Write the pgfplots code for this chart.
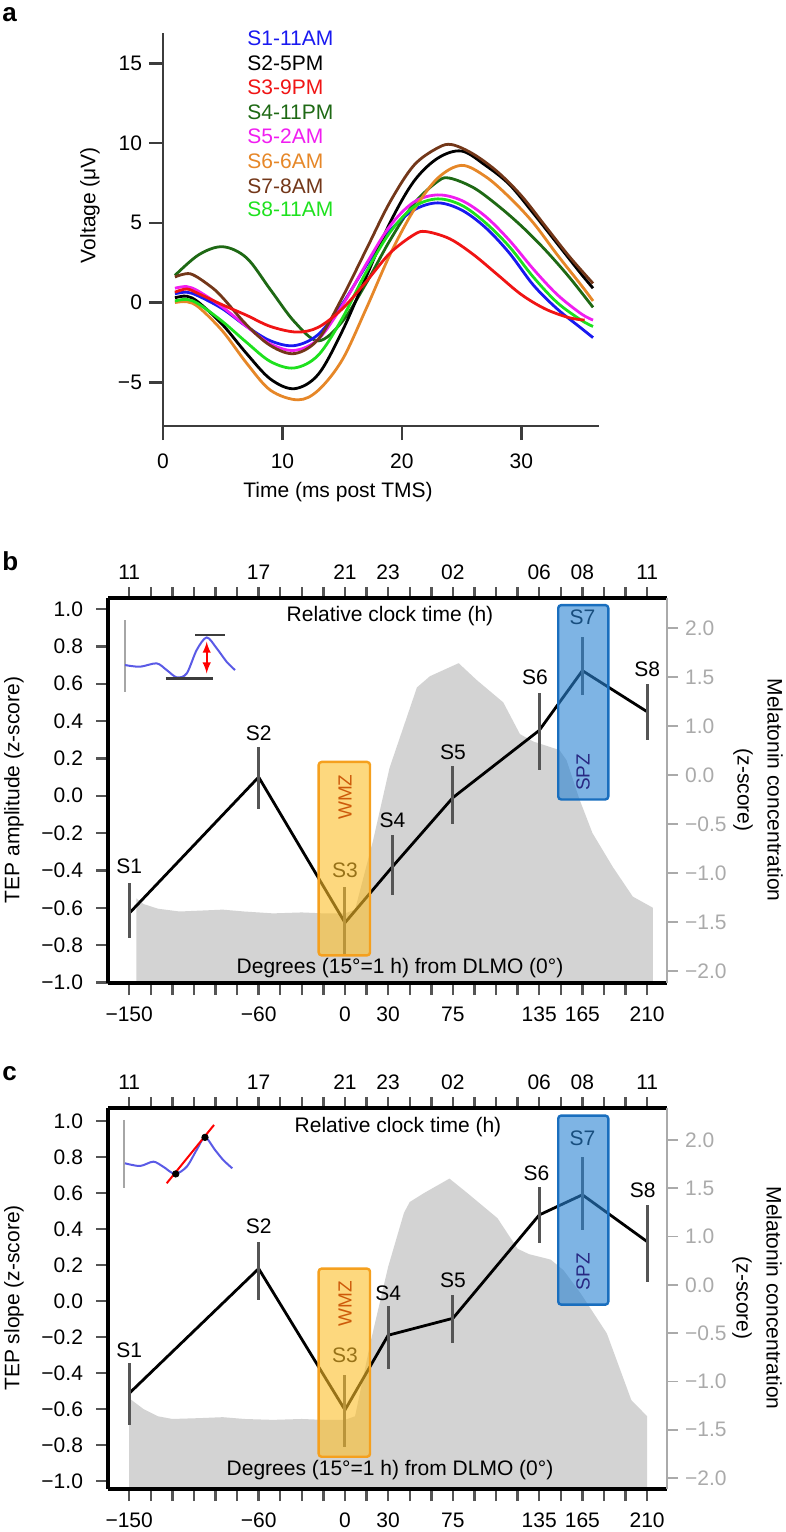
\documentclass[border=0pt]{standalone}
\usepackage{fontspec}
\setmainfont{Liberation Sans}
\usepackage{pgfplots}
\pgfplotsset{compat=1.18}
\definecolor{cS1}{RGB}{25,25,240}
\definecolor{cS2}{RGB}{0,0,0}
\definecolor{cS3}{RGB}{240,20,20}
\definecolor{cS4}{RGB}{30,105,20}
\definecolor{cS5}{RGB}{240,30,240}
\definecolor{cS6}{RGB}{230,135,40}
\definecolor{cS7}{RGB}{115,55,25}
\definecolor{cS8}{RGB}{30,225,30}
\definecolor{axgray}{RGB}{60,60,60}
\definecolor{barc}{RGB}{85,85,85}
\definecolor{melgray}{RGB}{211,211,211}
\definecolor{rgray}{RGB}{170,170,170}
\definecolor{wmzfill}{RGB}{252,190,40}
\definecolor{wmzedge}{RGB}{245,160,30}
\definecolor{wmztext}{RGB}{205,90,10}
\definecolor{spzfill}{RGB}{40,130,210}
\definecolor{spzedge}{RGB}{25,110,190}
\definecolor{spztext}{RGB}{40,40,130}
\definecolor{insetblue}{RGB}{90,90,230}
\newcommand{\fs}{\fontsize{10.5}{12.6}\selectfont}
\pgfplotsset{
  /pgf/number format/assume math mode=true,
  panelbc/.style={
    scale only axis, anchor=south west, width=279.5pt,
    xmin=-164.7, xmax=223.8, clip=false, axis on top,
    tick align=outside, major tick length=6pt,
    tick style={barc, line width=1.2pt},
    xtick={-150,-135,...,210},
    every tick label/.append style={font=\fs},
  },
  leftax/.style={
    axis x line*=bottom, axis y line*=left,
    x axis line style={black, line width=1.6pt, -},
    y axis line style={black, line width=1.6pt, -},
    xticklabels={−150,,,,,,−60,,,,0,,30,,,75,,,,135,,165,,,210},
    ytick={-1,-0.8,-0.6,-0.4,-0.2,0,0.2,0.4,0.6,0.8,1},
    yticklabels={−1.0,−0.8,−0.6,−0.4,−0.2,0.0,0.2,0.4,0.6,0.8,1.0},
    xticklabel style={yshift=-2.5pt},
    yticklabel style={xshift=-3pt},
  },
  rightax/.style={
    axis x line*=top, axis y line*=right,
    x axis line style={black, line width=1.6pt, -},
    y axis line style={rgray, line width=0.9pt, -},
    xticklabels={11,,,,,,17,,,,21,,23,,,02,,,,06,,08,,,11},
    ytick={-2,-1.5,-1,-0.5,0,0.5,1,1.5},
    yticklabels={−2.0,−1.5,−1.0,−0.5,0.0,1.0,1.5,2.0},
    y tick style={rgray, line width=0.9pt},
    yticklabel style={text=rgray},
    major tick length=5.5pt,
  },
  ebar/.style={draw=none, mark=none, forget plot,
    error bars/.cd, y dir=both, y explicit, error mark=none,
    error bar style={draw=barc, line width=1.5pt}},
}
\begin{document}
\begin{tikzpicture}[font=\fs]
\useasboundingbox (0,0) rectangle (393pt,-766pt);

% ---------------- panel a ----------------
\begin{axis}[
  at={(81.5pt,-213pt)}, anchor=south west,
  scale only axis, width=218pt, height=196.5pt,
  xmin=0, xmax=36.5, ymin=-7.74, ymax=16.9,
  axis x line*=bottom, axis y line*=left,
  x axis line style={axgray, line width=1.3pt, -},
  y axis line style={axgray, line width=1.3pt, -},
  tick align=outside, major tick length=7pt,
  tick style={axgray, line width=1.3pt},
  xtick={0,10,20,30}, xticklabels={0,10,20,30},
  ytick={-5,0,5,10,15}, yticklabels={−5,0,5,10,15},
  every tick label/.append style={font=\fs},
  xticklabel style={yshift=-3.5pt},
  clip=false,
]
\addplot[cS4, line width=1.4pt, smooth, tension=0.55] coordinates {(1,1.7)(3,3.0)(5,3.5)(7,2.8)(9,0.8)(11,-1.2)(13,-2.4)(15,-1.2)(17,1.2)(19,3.9)(21,6.2)(23,7.6)(24,7.8)(26,7.2)(28,6.1)(30,4.8)(32,3.3)(34,1.6)(36,-0.3)};
\addplot[cS1, line width=1.4pt, smooth, tension=0.55] coordinates {(1,0.55)(2,0.65)(3,0.4)(5,-0.4)(7,-1.5)(9,-2.4)(11,-2.7)(13,-2.0)(15,-0.1)(17,2.3)(19,4.5)(21,5.8)(23,6.25)(25,5.8)(27,4.7)(29,3.1)(31,1.1)(33,-0.4)(35,-1.6)(36,-2.2)};
\addplot[cS2, line width=1.4pt, smooth, tension=0.55] coordinates {(1,0.3)(2,0.4)(3,0.0)(5,-1.4)(7,-3.2)(9,-4.8)(11,-5.4)(13,-4.5)(15,-1.8)(17,1.6)(19,5.0)(21,7.6)(23,9.05)(25,9.5)(27,8.6)(29,7.4)(31,5.6)(33,3.7)(35,1.8)(36,0.9)};
\addplot[cS5, line width=1.4pt, smooth, tension=0.55] coordinates {(1,0.9)(2,1.0)(3,0.7)(5,-0.3)(7,-1.5)(9,-2.6)(11,-3.0)(13,-2.3)(15,-0.2)(17,2.4)(19,4.8)(21,6.3)(23,6.75)(25,6.4)(27,5.4)(29,3.9)(31,2.1)(33,0.5)(35,-0.7)(36,-1.1)};
\addplot[cS6, line width=1.4pt, smooth, tension=0.55] coordinates {(1,0.0)(2,0.05)(3,-0.3)(5,-1.8)(7,-3.8)(9,-5.5)(11.3,-6.1)(13,-5.5)(15,-3.6)(17,-0.4)(19,3.0)(21,5.8)(23,7.8)(25,8.6)(27,7.9)(29,6.6)(31,5.0)(33,3.0)(35,1.1)(36,0.1)};
\addplot[cS7, line width=1.4pt, smooth, tension=0.55] coordinates {(1,1.6)(2.3,1.8)(4,1.0)(5,0.3)(7,-1.4)(9,-2.7)(11,-3.2)(13,-2.3)(15,0.3)(17,3.3)(19,6.3)(21,8.6)(23,9.7)(24.2,9.9)(26,9.3)(28,8.2)(30,6.7)(32,4.8)(34,2.9)(36,1.2)};
\addplot[cS8, line width=1.4pt, smooth, tension=0.55] coordinates {(1,0.1)(2,0.2)(3,-0.1)(5,-1.2)(7,-2.5)(9,-3.7)(11,-4.1)(13,-3.3)(15,-1.0)(17,1.9)(19,4.4)(21,6.0)(23,6.5)(25,6.1)(27,5.0)(29,3.5)(31,1.6)(33,0.0)(35,-1.1)(36,-1.5)};
\addplot[cS3, line width=1.4pt, smooth, tension=0.55] coordinates {(1,0.65)(2,0.85)(3,0.55)(5,-0.15)(7,-0.8)(9,-1.5)(11.2,-1.85)(13,-1.55)(15,-0.4)(17,1.3)(19,3.1)(21,4.25)(22,4.45)(24,4.0)(26,3.0)(28,1.75)(30,0.5)(32,-0.4)(34,-0.95)(35.3,-1.1)};
\end{axis}
\node[font=\bfseries\fontsize{13}{14}\selectfont, anchor=base west, inner sep=0] at (1pt,-10.8pt) {a};
\node[rotate=90] at (45pt,-102.5pt) {Voltage (μV)};
\node at (169pt,-246pt) {Time (ms post TMS)};
\begin{scope}[every node/.style={anchor=west, inner sep=0, font=\fs}]
\node[text=cS1] at (123.5pt,-19pt) {S1-11AM};
\node[text=cS2] at (123.5pt,-31.5pt) {S2-5PM};
\node[text=cS3] at (123.5pt,-43.5pt) {S3-9PM};
\node[text=cS4] at (123.5pt,-56pt) {S4-11PM};
\node[text=cS5] at (123.5pt,-68pt) {S5-2AM};
\node[text=cS6] at (123.5pt,-80.5pt) {S6-6AM};
\node[text=cS7] at (123.5pt,-93pt) {S7-8AM};
\node[text=cS8] at (123.5pt,-104.5pt) {S8-11AM};
\end{scope}

% ---------------- panel b ----------------
\begin{axis}[panelbc, leftax, at={(54pt,-491.5pt)}, height=192.5pt, ymin=-1.003, ymax=1.059]
\addplot[fill=melgray, draw=none] coordinates {(-145,-1.003)(-145,-0.55)(-140,-0.58)(-130,-0.605)(-115,-0.62)(-100,-0.615)(-85,-0.61)(-70,-0.62)(-50,-0.63)(-30,-0.625)(-15,-0.63)(0,-0.63)(7,-0.61)(19.5,-0.24)(31,0.15)(50,0.58)(59,0.64)(79,0.71)(91.5,0.62)(110,0.5)(121.6,0.33)(131,0.29)(149,0.245)(154,0.19)(163,-0.02)(172,-0.2)(186,-0.38)(200,-0.54)(214,-0.6)(214,-1.003)} -- cycle;
% inset
\addplot[gray!70, line width=1pt] coordinates {(-152.9,0.94)(-152.9,0.555)};
\addplot[insetblue, line width=1pt, smooth] coordinates {(-152.9,0.70)(-142.5,0.691)(-130.9,0.709)(-123.9,0.673)(-116.9,0.634)(-110,0.655)(-103.1,0.78)(-96.1,0.848)(-89.1,0.789)(-82.2,0.717)(-76.4,0.673)};
\addplot[axgray, line width=1.1pt] coordinates {(-104.2,0.861)(-83.4,0.861)};
\addplot[axgray, line width=1.1pt] coordinates {(-124.6,0.628)(-91.5,0.628)};
\addplot[red, line width=0.9pt, latex-latex] coordinates {(-96.1,0.825)(-96.1,0.655)};
% TEP amplitude line
\addplot[black, line width=1.4pt, mark=none] coordinates {(-150,-0.63)(-60,0.1)(0,-0.68)(33,-0.38)(75,-0.01)(135,0.35)(165,0.67)(210,0.45)};
\addplot[ebar] coordinates {
(-150,-0.63) +=(0,0.16) -=(0,0.13)
(-60,0.1) +=(0,0.16) -=(0,0.17)
(0,-0.68) +=(0,0.19) -=(0,0.175)
(33,-0.38) +=(0,0.17) -=(0,0.15)
(75,-0.01) +=(0,0.17) -=(0,0.14)
(135,0.35) +=(0,0.2) -=(0,0.21)
(165,0.67) +=(0,0.18) -=(0,0.13)
(210,0.45) +=(0,0.15) -=(0,0.15)};
\node at (axis cs:-150,-0.38) {S1};
\node at (axis cs:-60,0.335) {S2};
\node at (axis cs:0,-0.40) {S3};
\node at (axis cs:33,-0.13) {S4};
\node at (axis cs:75,0.235) {S5};
\node at (axis cs:132,0.635) {S6};
\node at (axis cs:165,0.957) {S7};
\node at (axis cs:210,0.68) {S8};
% zones
\addplot[fill=wmzfill, fill opacity=0.6, draw=wmzedge, line width=1.2pt, rounded corners=1.5pt] coordinates {(-18.3,-0.855)(17.4,-0.855)(17.4,0.181)(-18.3,0.181)} -- cycle;
\addplot[fill=spzfill, fill opacity=0.6, draw=spzedge, line width=1.2pt, rounded corners=1.5pt] coordinates {(148.2,-0.02)(183,-0.02)(183,1.021)(148.2,1.021)} -- cycle;
\node[rotate=90, text=wmztext, font=\fontsize{9.5}{11}\selectfont] at (axis cs:0,-0.008) {WMZ};
\node[rotate=90, text=spztext, font=\fontsize{9.5}{11}\selectfont] at (axis cs:165.5,0.126) {SPZ};
\end{axis}
\begin{axis}[panelbc, rightax, at={(54pt,-491.5pt)}, height=192.5pt, ymin=-2.122, ymax=1.806]
\end{axis}
\node[font=\bfseries\fontsize{13}{14}\selectfont, anchor=base west, inner sep=0] at (1pt,-285pt) {b};
\node at (195pt,-308pt) {Relative clock time (h)};
\node at (200pt,-484pt) {Degrees (15°=1 h) from DLMO (0°)};
\node[rotate=90] at (7pt,-395pt) {TEP amplitude (z-score)};
\node[rotate=-90, align=center, font=\fontsize{10.5}{15}\selectfont] at (379pt,-395pt) {Melatonin concentration\\(z-score)};

% ---------------- panel c ----------------
\begin{axis}[panelbc, leftax, at={(54pt,-744.5pt)}, height=190.5pt, ymin=-1.044, ymax=1.072]
\addplot[fill=melgray, draw=none] coordinates {(-150,-1.044)(-150,-0.54)(-140,-0.6)(-130,-0.64)(-120,-0.655)(-100,-0.65)(-85,-0.645)(-70,-0.655)(-50,-0.66)(-30,-0.655)(-15,-0.66)(0,-0.66)(7,-0.64)(18,-0.22)(30,0.19)(41,0.49)(45,0.55)(55,0.6)(72.6,0.68)(85,0.6)(106,0.46)(120,0.29)(128,0.26)(143,0.23)(152,0.17)(164,0.04)(182,-0.18)(199,-0.55)(210,-0.64)(210,-1.044)} -- cycle;
% inset
\addplot[gray!70, line width=1pt] coordinates {(-153.6,1.006)(-153.6,0.628)};
\addplot[insetblue, line width=1pt, smooth] coordinates {(-152.9,0.765)(-142.5,0.75)(-133.2,0.774)(-126.3,0.746)(-118.1,0.706)(-110,0.746)(-103.1,0.839)(-97.3,0.909)(-90.3,0.839)(-84.6,0.783)(-78.3,0.737)};
\addplot[red, line width=1pt] coordinates {(-123.9,0.654)(-91,0.978)};
\addplot[only marks, mark=*, mark size=1.6pt, black] coordinates {(-117.6,0.706)(-97.3,0.909)};
% TEP slope line
\addplot[black, line width=1.4pt, mark=none] coordinates {(-150,-0.513)(-60,0.18)(0,-0.605)(30,-0.19)(75,-0.096)(135,0.478)(165,0.59)(210,0.33)};
\addplot[ebar] coordinates {
(-150,-0.513) +=(0,0.167) -=(0,0.177)
(-60,0.18) +=(0,0.15) -=(0,0.175)
(0,-0.605) +=(0,0.195) -=(0,0.205)
(30,-0.19) +=(0,0.16) -=(0,0.19)
(75,-0.096) +=(0,0.129) -=(0,0.139)
(135,0.478) +=(0,0.157) -=(0,0.158)
(165,0.59) +=(0,0.21) -=(0,0.195)
(210,0.33) +=(0,0.203) -=(0,0.223)};
\node at (axis cs:-150,-0.272) {S1};
\node at (axis cs:-60,0.413) {S2};
\node at (axis cs:0,-0.30) {S3};
\node at (axis cs:30,0.043) {S4};
\node at (axis cs:75,0.117) {S5};
\node at (axis cs:133,0.71) {S6};
\node at (axis cs:165,0.904) {S7};
\node at (axis cs:207,0.617) {S8};
% zones
\addplot[fill=wmzfill, fill opacity=0.6, draw=wmzedge, line width=1.2pt, rounded corners=1.5pt] coordinates {(-18.3,-0.865)(17.4,-0.865)(17.4,0.18)(-18.3,0.18)} -- cycle;
\addplot[fill=spzfill, fill opacity=0.6, draw=spzedge, line width=1.2pt, rounded corners=1.5pt] coordinates {(148.2,-0.02)(183,-0.02)(183,1.03)(148.2,1.03)} -- cycle;
\node[rotate=90, text=wmztext, font=\fontsize{9.5}{11}\selectfont] at (axis cs:0,-0.014) {WMZ};
\node[rotate=90, text=spztext, font=\fontsize{9.5}{11}\selectfont] at (axis cs:165.5,0.163) {SPZ};
\end{axis}
\begin{axis}[panelbc, rightax, at={(54pt,-744.5pt)}, height=190.5pt, ymin=-2.114, ymax=1.830]
\end{axis}
\node[font=\bfseries\fontsize{13}{14}\selectfont, anchor=base west, inner sep=0] at (1pt,-540pt) {c};
\node at (199pt,-563.5pt) {Relative clock time (h)};
\node at (195pt,-735pt) {Degrees (15°=1 h) from DLMO (0°)};
\node[rotate=90] at (7pt,-649pt) {TEP slope (z-score)};
\node[rotate=-90, align=center, font=\fontsize{10.5}{15}\selectfont] at (378.5pt,-649pt) {Melatonin concentration\\(z-score)};
\end{tikzpicture}
\end{document}
